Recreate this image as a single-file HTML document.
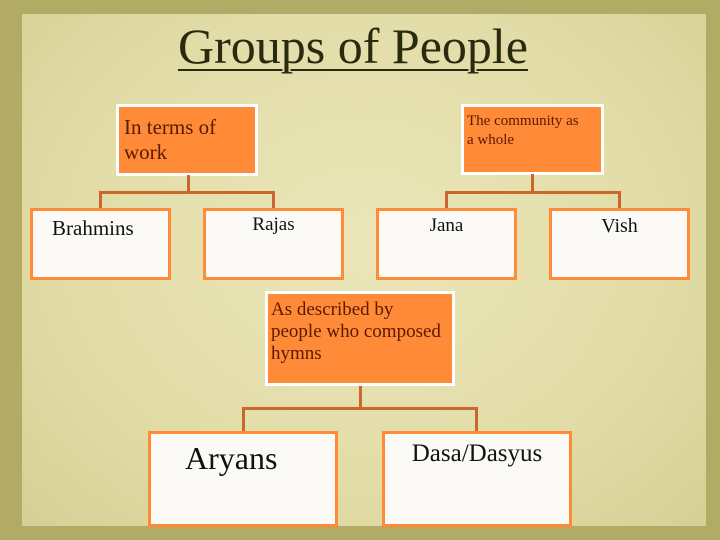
<!DOCTYPE html>
<html><head><style>
body{margin:0;width:720px;height:540px;overflow:hidden;background:#b2ab66;font-family:"Liberation Serif",serif;}
.paper{position:absolute;left:22px;top:14px;width:684px;height:512px;background:radial-gradient(ellipse at 50% 45%,#eae6b8 0%,#e2dca8 60%,#d6cf95 100%);}
.b{position:absolute;box-sizing:border-box;}
.o{background:#ff8a38;border:3px solid #fff;color:#5a1a00;}
.w{background:#fbfaf6;border:3px solid #ff8a38;color:#111;}
.l{position:absolute;background:#c9672c;}
</style></head><body>
<div class="paper"></div>
<div style="position:absolute;left:-7px;width:720px;top:17px;text-align:center;font-size:50px;color:#2a2a0e;white-space:nowrap"><span style="text-decoration:underline;text-decoration-thickness:2px;text-underline-offset:6px">Groups of People</span></div>

<div class="b o" style="left:116px;top:104px;width:142px;height:72px;font-size:21px;line-height:25px;padding:8px 0 0 5px;white-space:nowrap">In terms of<br>work</div>
<div class="l" style="left:187px;top:175px;width:3px;height:18px"></div>
<div class="l" style="left:99px;top:191px;width:176px;height:3px"></div>
<div class="l" style="left:99px;top:191px;width:3px;height:18px"></div>
<div class="l" style="left:272px;top:191px;width:3px;height:18px"></div>
<div class="b w" style="left:30px;top:208px;width:141px;height:72px;font-size:21px;padding:5px 0 0 19px">Brahmins</div>
<div class="b w" style="left:203px;top:208px;width:141px;height:72px;font-size:19px;text-align:center;padding-top:3px">Rajas</div>

<div class="b o" style="left:461px;top:104px;width:143px;height:71px;font-size:15px;line-height:19px;padding:5px 0 0 3px;white-space:nowrap">The community as<br>a whole</div>
<div class="l" style="left:531px;top:174px;width:3px;height:19px"></div>
<div class="l" style="left:445px;top:191px;width:176px;height:3px"></div>
<div class="l" style="left:445px;top:191px;width:3px;height:18px"></div>
<div class="l" style="left:618px;top:191px;width:3px;height:18px"></div>
<div class="b w" style="left:376px;top:208px;width:141px;height:72px;font-size:19px;text-align:center;padding-top:4px">Jana</div>
<div class="b w" style="left:549px;top:208px;width:141px;height:72px;font-size:20px;text-align:center;padding-top:4px">Vish</div>

<div class="b o" style="left:265px;top:291px;width:190px;height:95px;font-size:19px;line-height:22px;padding:5px 0 0 3px;white-space:nowrap">As described by<br>people who composed<br>hymns</div>
<div class="l" style="left:359px;top:386px;width:3px;height:24px"></div>
<div class="l" style="left:242px;top:407px;width:236px;height:3px"></div>
<div class="l" style="left:242px;top:407px;width:3px;height:25px"></div>
<div class="l" style="left:475px;top:407px;width:3px;height:25px"></div>
<div class="b w" style="left:148px;top:431px;width:190px;height:96px;font-size:32px;padding:6px 0 0 34px">Aryans</div>
<div class="b w" style="left:382px;top:431px;width:190px;height:96px;font-size:25px;text-align:center;padding-top:6px">Dasa/Dasyus</div>
</body></html>
